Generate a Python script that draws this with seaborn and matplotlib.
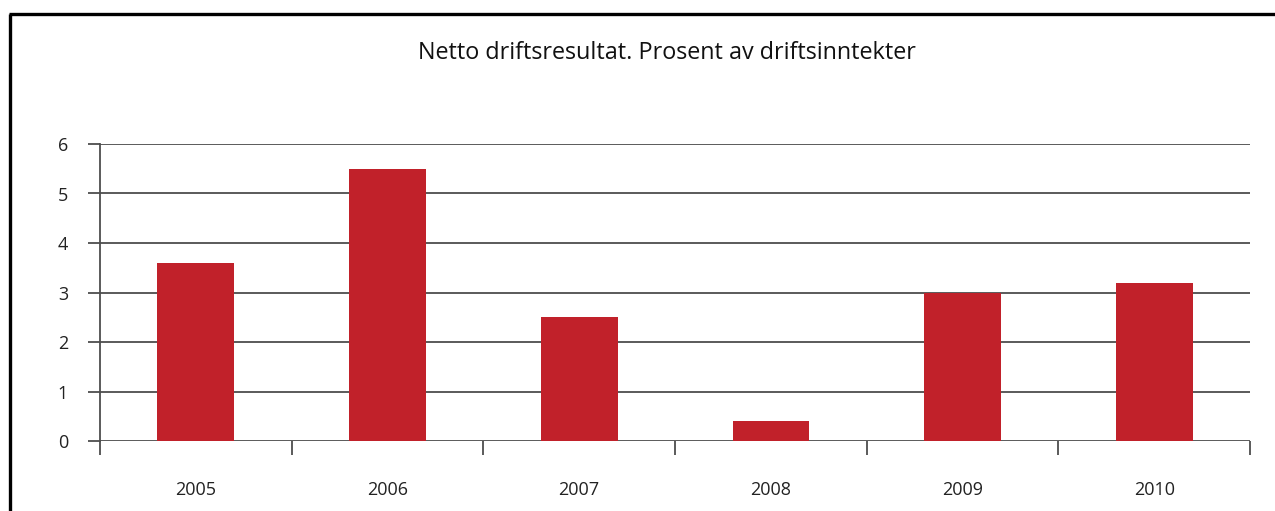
import matplotlib
matplotlib.use("Agg")
import matplotlib.pyplot as plt
import seaborn as sns
import pandas as pd
import numpy as np
from matplotlib.lines import Line2D

years = ["2005", "2006", "2007", "2008", "2009", "2010"]
values = [3.6, 5.5, 2.5, 0.4, 3.0, 3.2]
title = "Netto driftsresultat. Prosent av driftsinntekter"

sns.set_theme(style="white")
plt.rcParams['font.family'] = ['Open Sans', 'DejaVu Sans']

df = pd.DataFrame({"year": years, "value": values})

fig = plt.figure(figsize=(12.75, 5.11), dpi=100)
ax = fig.add_axes([100/1275, 70/511, 1150/1275, 297/511])

sns.barplot(data=df, x="year", y="value", color="#C1212A", width=0.4,
            saturation=1, ax=ax, zorder=3, linewidth=0)

ax.set_ylim(0, 6)
ax.set_xlim(-0.5, len(years) - 0.5)
ax.set_yticks(range(0, 7))
ax.yaxis.grid(True, color="#4d4d4d", linewidth=1.3, zorder=0)
ax.set_axisbelow(True)
ax.set_xlabel("")
ax.set_ylabel("")

for s in ["top", "right", "bottom"]:
    ax.spines[s].set_visible(False)
ax.spines["left"].set_color("#4d4d4d")
ax.spines["left"].set_linewidth(1.3)

ax.tick_params(axis="y", which="major", left=True, length=9, width=1.3,
               color="#4d4d4d", labelsize=13, pad=14, labelcolor="#222222")
ax.tick_params(axis="x", which="major", bottom=False, labelsize=13, pad=23,
               labelcolor="#222222")
ax.set_xticks(np.arange(-0.5, len(years)), minor=True)
ax.tick_params(axis="x", which="minor", bottom=True, length=10, width=1.3,
               color="#4d4d4d")

fig.text(667 / 1275, (511 - 53) / 511, title, ha="center", va="center",
         fontsize=16.8, color="#111111")

# outer frame (left and top edges)
fig.add_artist(Line2D([10/1275, 10/1275], [0, (511-14)/511], transform=fig.transFigure,
                      color="black", linewidth=2.4, solid_capstyle="butt"))
fig.add_artist(Line2D([9/1275, 1], [(511-14)/511, (511-14)/511], transform=fig.transFigure,
                      color="black", linewidth=2.4, solid_capstyle="butt"))

fig.savefig("out.png", dpi=100)
